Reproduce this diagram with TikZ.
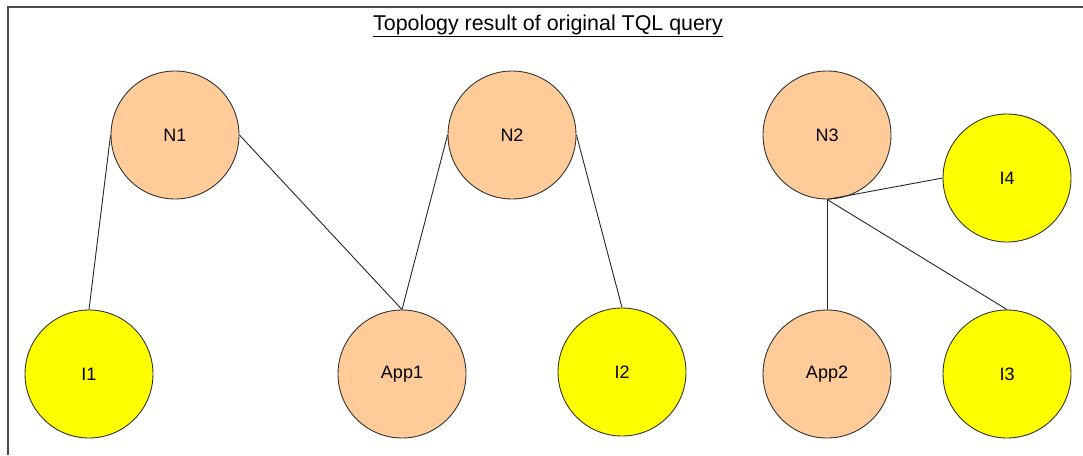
\documentclass[tikz,border=0pt]{standalone}
\usepackage{fontspec}
\setmainfont{Liberation Sans}
\begin{document}
\begin{tikzpicture}[x=1pt,y=-1pt,
  circ/.style={circle,draw=black!80,line width=0.9pt,minimum size=128pt,inner sep=0pt,font=\fontsize{18}{20}\selectfont},
  peach/.style={circ,fill={rgb,255:red,255;green,204;blue,153}},
  yel/.style={circ,fill={rgb,255:red,255;green,255;blue,0}},
  link/.style={draw=black!85,line width=0.9pt}]
\useasboundingbox (0,0) rectangle (1083,455);
\draw[line width=2pt,draw=black!70] (8,455) -- (8,7) -- (1083,7);
\node[font=\fontsize{21.4}{23}\selectfont] (title) at (548,26) {\underline{Topology result of original TQL query}};
\node[peach] (N1) at (175,135) {N1};
\node[peach] (N2) at (512,135) {N2};
\node[peach] (N3) at (827,135) {N3};
\node[yel] (I1) at (89,374) {I1};
\node[peach] (App1) at (402,374) {App1};
\node[yel] (I2) at (622,372) {I2};
\node[peach] (App2) at (827,374) {App2};
\node[yel] (I3) at (1007,374) {I3};
\node[yel] (I4) at (1007,178) {I4};
\draw[link] (N1.west) -- (I1.north);
\draw[link] (N1.east) -- (App1.north);
\draw[link] (N2.west) -- (App1.north);
\draw[link] (N2.east) -- (I2.north);
\draw[link] (N3.south) -- (I4.west);
\draw[link] (N3.south) -- (App2.north);
\draw[link] (N3.south) -- (I3.north);
\end{tikzpicture}
\end{document}
